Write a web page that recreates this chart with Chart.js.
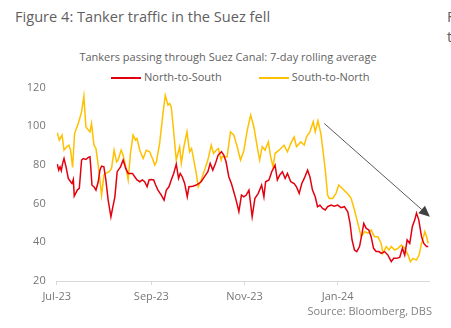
<!DOCTYPE html>
<html>
<head>
<meta charset="utf-8">
<script src="https://cdn.jsdelivr.net/npm/chart.js@4.4.1/dist/chart.umd.min.js"></script>
<style>
  html, body { margin: 0; padding: 0; background: #fff; }
  body { width: 451px; height: 328px; overflow: hidden; position: relative; font-family: "Open Sans", sans-serif; }
  .fig-title { position: absolute; left: 15px; top: 6px; font-size: 14.6px; color: #5f5f5f; white-space: nowrap; }
  .next-fig { position: absolute; left: 447px; top: 6px; font-size: 14.6px; color: #5f5f5f; line-height: 20px; }
  .sub { position: absolute; left: 0; width: 456px; top: 49px; text-align: center; font-size: 11px; color: #626262; }
  .legend { position: absolute; top: 69px; left: 111px; font-size: 11px; color: #626262; white-space: nowrap; }
  .legend span.item { display: inline-block; margin-right: 37px; }
  .legend i { display: inline-block; width: 30px; height: 2px; vertical-align: middle; margin-right: 3px; }
  .source { position: absolute; right: 19px; top: 303px; font-size: 11px; color: #808080; }
  .chartbox { position: absolute; left: 0; top: 0; width: 451px; height: 328px; }
</style>
</head>
<body>
<div class="fig-title">Figure 4: Tanker traffic in the Suez fell</div>
<div class="next-fig">F<br>t</div>
<div class="sub">Tankers passing through Suez Canal: 7-day rolling average</div>
<div class="legend">
  <span class="item"><i style="background:#e3000f"></i>North-to-South</span><span class="item"><i style="background:#ffc000"></i>South-to-North</span>
</div>
<div class="chartbox"><canvas id="chart"></canvas></div>
<div class="source">Source: Bloomberg, DBS</div>

<script>
// x values = days since 1 Jul 2023
const tickDays = [0, 62, 123, 184];
const tickLabels = ['Jul-23', 'Sep-23', 'Nov-23', 'Jan-24'];
const yTicks = [20, 40, 60, 80, 100, 120];

// North-to-South (red)
const nsDays = [0.4, 1.3, 2.2, 3.0, 3.9, 4.8, 6.1, 7.6, 9.1, 10.0, 10.9, 11.5, 13.5, 14.8, 16.3, 17.4, 19.1, 20.7, 21.8, 22.2,
  23.1, 24.4, 25.7, 27.2, 28.3, 29.4, 30.9, 32.2, 33.7, 35.5, 37.0, 38.1, 39.6, 41.8, 43.5, 45.2, 46.8, 47.9, 49.6, 51.1,
  52.6, 54.4, 56.1, 57.6, 59.2, 60.5, 62.0, 63.5, 64.8, 66.3, 68.5, 70.3, 71.8, 73.5, 75.0, 76.6, 78.3, 79.8, 80.9, 82.2,
  83.8, 85.5, 86.6, 89.2, 91.4, 93.1, 94.6, 96.8, 99.0, 100.5, 102.2, 104.0, 105.7, 107.9, 109.4, 110.9, 112.7, 114.4, 116.0, 117.5,
  119.3, 121.0, 122.6, 124.1, 125.9, 128.0, 129.8, 132.0, 134.2, 135.7, 136.8, 139.0, 140.8, 143.0, 144.5, 146.0, 147.8, 149.6, 151.1, 153.3,
  155.5, 157.0, 158.8, 160.5, 162.1, 164.3, 165.8, 167.5, 169.3, 170.8, 172.4, 174.1, 175.9, 177.4, 179.6, 181.8, 184.0, 186.2, 188.4, 190.6,
  192.1, 193.4, 195.0, 196.5, 198.3, 200.0, 201.1, 202.7, 204.4, 205.9, 207.5, 209.2, 211.0, 212.5, 214.7, 216.9, 219.1, 220.7, 222.4, 224.6,
  226.4, 227.9, 229.5, 231.2, 232.9, 234.5, 235.6, 237.1, 238.9, 240.4, 242.2, 243.3];
const nsValues = [80.4, 77.3, 79.0, 77.0, 80.8, 83.3, 79.0, 73.0, 71.3, 70.4, 72.5, 63.9, 67.0, 67.9, 82.5, 83.3, 82.8, 83.9, 84.2, 80.0,
  69.5, 68.7, 67.0, 71.3, 77.3, 79.4, 79.0, 72.2, 61.8, 53.2, 59.2, 63.5, 76.5, 79.0, 82.5, 78.2, 75.6, 75.6, 75.6, 73.9,
  72.2, 71.3, 72.2, 71.3, 68.7, 72.2, 72.5, 72.2, 69.6, 67.0, 64.4, 61.8, 67.0, 68.7, 72.2, 75.6, 80.4, 73.0, 75.6, 73.9,
  70.4, 63.5, 68.7, 69.0, 69.6, 70.4, 71.3, 73.9, 76.5, 80.8, 77.3, 80.8, 85.1, 86.8, 85.1, 81.6, 73.9, 70.4, 66.0, 61.8,
  55.8, 64.4, 63.5, 64.4, 67.0, 53.2, 62.7, 65.3, 69.6, 63.5, 71.3, 72.2, 76.5, 79.9, 72.2, 74.7, 76.5, 73.0, 75.6, 71.3,
  70.4, 68.7, 65.3, 70.4, 73.0, 77.3, 73.9, 67.0, 63.5, 58.4, 59.2, 57.5, 56.7, 58.4, 59.2, 58.7, 59.2, 57.9, 58.4, 55.8,
  49.8, 41.2, 36.0, 35.2, 37.8, 44.7, 49.8, 47.2, 46.4, 42.9, 36.9, 35.2, 35.2, 34.3, 35.2, 33.4, 30.0, 31.7, 31.7, 32.2,
  36.9, 33.4, 41.2, 39.4, 48.2, 51.6, 55.1, 51.6, 42.9, 39.4, 37.8, 37.8];

// South-to-North (yellow)
const snDays = [0.4, 1.7, 3.5, 4.8, 6.5, 8.0, 9.1, 10.4, 11.7, 14.1, 16.3, 17.8, 19.1, 20.7, 21.8, 22.8, 24.4, 25.7, 27.2, 29.4,
  30.9, 32.2, 34.4, 35.9, 37.6, 39.2, 40.2, 42.2, 43.5, 45.2, 46.8, 48.3, 50.0, 51.6, 52.6, 54.4, 56.6, 58.7, 60.9, 63.1,
  64.2, 65.3, 67.4, 69.6, 71.1, 72.9, 74.0, 75.0, 76.1, 78.3, 80.5, 81.6, 83.3, 85.3, 87.0, 88.3, 89.8, 91.4, 92.7, 94.6,
  96.8, 99.0, 101.2, 102.7, 104.4, 105.9, 107.7, 108.3, 111.6, 113.8, 116.0, 118.2, 120.4, 122.6, 124.8, 127.0, 129.1, 131.3, 132.9, 134.6,
  136.4, 138.6, 140.1, 141.7, 143.0, 145.6, 148.9, 151.1, 153.3, 155.5, 157.0, 159.9, 162.1, 163.6, 165.8, 168.0, 169.3, 171.1, 173.0, 174.6,
  175.9, 177.4, 178.5, 180.7, 182.9, 184.7, 186.9, 189.1, 191.2, 192.8, 195.0, 197.2, 199.4, 201.6, 203.8, 205.9, 208.1, 210.3, 212.5, 213.6,
  215.8, 217.6, 219.1, 221.3, 223.5, 225.7, 227.9, 230.1, 231.6, 233.4, 235.6, 237.3, 238.9, 241.1, 242.2, 243.3];
const snValues = [96.6, 92.8, 95.4, 87.6, 89.4, 90.2, 87.6, 78.7, 96.2, 101.4, 107.4, 115.5, 99.7, 98.0, 97.1, 101.4, 90.2, 88.5, 79.9, 64.4,
  74.7, 75.6, 76.5, 78.2, 87.6, 81.6, 82.5, 87.6, 85.1, 79.0, 72.2, 85.9, 95.4, 92.8, 93.6, 87.6, 83.3, 87.6, 86.8, 82.5,
  79.9, 81.6, 91.1, 106.6, 116.0, 110.9, 111.7, 110.0, 101.4, 82.5, 89.4, 80.8, 89.4, 97.1, 86.8, 88.5, 82.5, 75.6, 68.7, 72.2,
  77.3, 82.5, 90.2, 85.9, 87.6, 88.5, 82.5, 84.2, 84.2, 97.1, 95.4, 89.4, 82.5, 87.6, 98.0, 105.7, 99.7, 89.4, 82.5, 89.4,
  87.6, 91.9, 84.2, 79.0, 85.9, 87.6, 90.2, 86.8, 91.1, 94.5, 89.4, 91.9, 90.2, 94.5, 97.1, 102.3, 97.1, 102.8, 96.2, 85.9,
  77.3, 64.4, 62.7, 62.7, 65.3, 69.6, 67.9, 66.2, 64.4, 62.7, 56.7, 49.8, 42.9, 45.5, 44.7, 46.4, 42.9, 42.9, 39.4, 34.3,
  37.8, 36.0, 37.8, 36.0, 36.9, 38.6, 36.9, 33.4, 30.0, 31.7, 30.8, 33.4, 39.4, 45.5, 42.9, 39.4];

// trend arrow, in data units [day, value]
const arrowFrom = [175.2, 101.4];
const arrowTo = [244.4, 53.2];

const toPoints = (xs, ys) => xs.map((d, i) => ({ x: d, y: ys[i] }));

const arrowPlugin = {
  id: 'trendArrow',
  afterDatasetsDraw(chart) {
    const { ctx, scales: { x, y } } = chart;
    const x0 = x.getPixelForValue(arrowFrom[0]), y0 = y.getPixelForValue(arrowFrom[1]);
    const x1 = x.getPixelForValue(arrowTo[0]), y1 = y.getPixelForValue(arrowTo[1]);
    const ang = Math.atan2(y1 - y0, x1 - x0);
    const len = 11, half = 5;
    const bx = x1 - len * Math.cos(ang), by = y1 - len * Math.sin(ang);
    ctx.save();
    ctx.strokeStyle = '#595959';
    ctx.lineWidth = 1;
    ctx.beginPath();
    ctx.moveTo(x0, y0);
    ctx.lineTo(bx, by);
    ctx.stroke();
    ctx.fillStyle = '#404040';
    ctx.beginPath();
    ctx.moveTo(x1, y1);
    ctx.lineTo(bx + half * Math.sin(ang), by - half * Math.cos(ang));
    ctx.lineTo(bx - half * Math.sin(ang), by + half * Math.cos(ang));
    ctx.closePath();
    ctx.fill();
    ctx.restore();
  }
};

new Chart(document.getElementById('chart').getContext('2d'), {
  type: 'line',
  data: {
    datasets: [{
      label: 'North-to-South',
      data: toPoints(nsDays, nsValues),
      borderColor: '#e3000f',
      borderWidth: 1.5,
      pointRadius: 0,
      tension: 0
    }, {
      label: 'South-to-North',
      data: toPoints(snDays, snValues),
      borderColor: '#ffc000',
      borderWidth: 1.5,
      pointRadius: 0,
      tension: 0
    }]
  },
  options: {
    responsive: true,
    maintainAspectRatio: false,
    animation: false,
    layout: { padding: { top: 87.5, left: 0, right: 21.7, bottom: 25 } },
    plugins: {
      legend: { display: false },
      tooltip: { enabled: false }
    },
    scales: {
      x: {
        type: 'linear',
        min: 0,
        max: 244,
        afterBuildTicks: scale => { scale.ticks = tickDays.map(v => ({ value: v })); },
        afterFit: scale => { scale.height = 22; },
        grid: { drawOnChartArea: false, drawTicks: true, tickLength: 4, color: '#d9d9d9' },
        border: { display: true, color: '#d9d9d9' },
        ticks: {
          padding: 5,
          color: '#767676',
          font: { family: 'Open Sans', size: 11 },
          maxRotation: 0,
          autoSkip: false,
          callback: v => tickLabels[tickDays.indexOf(v)]
        }
      },
      y: {
        min: 20,
        max: 120,
        afterBuildTicks: scale => { scale.ticks = yTicks.map(v => ({ value: v })); },
        afterFit: scale => { scale.width = 56.7; },
        grid: { display: false, drawTicks: false },
        border: { display: false },
        ticks: {
          padding: 11,
          color: '#767676',
          font: { family: 'Open Sans', size: 11 }
        }
      }
    }
  },
  plugins: [arrowPlugin]
});
</script>
</body>
</html>
